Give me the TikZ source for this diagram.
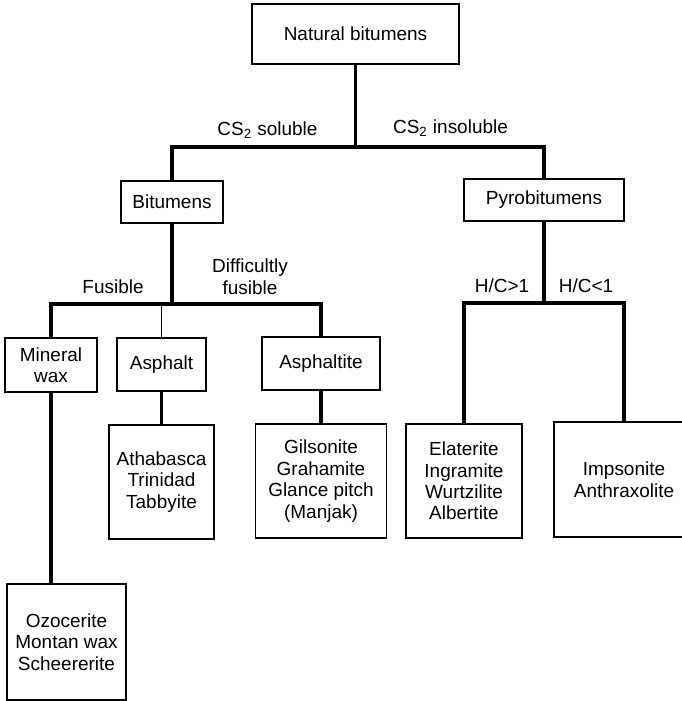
\documentclass[tikz,border=0pt]{standalone}
\usepackage{fontspec}
\setmainfont{Liberation Sans}

\begin{document}
\begin{tikzpicture}[x=0.02cm,y=-0.02cm,font=\fontsize{10.8}{12.2}\selectfont,
  box/.style={draw,line width=0.6pt,align=center,inner sep=0pt},
  link/.style={line width=2.2pt},
  lbl/.style={inner sep=0pt,align=center}]
\useasboundingbox (0,0) rectangle (682,701);
% boxes
\node[box,minimum width=4.14cm,minimum height=1.2cm] (nat) at (355.5,34) {Natural bitumens};
\node[box,minimum width=2.04cm,minimum height=0.84cm] (bit) at (172,202) {Bitumens};
\node[box,minimum width=3.2cm,minimum height=0.84cm] (pyro) at (544,200) {Pyrobitumens};
\node[box,minimum width=1.84cm,minimum height=1.08cm] (minwax) at (51,365) {Mineral\\wax};
\node[box,minimum width=1.78cm,minimum height=1.06cm] (asph) at (161.5,364.5) {Asphalt};
\node[box,minimum width=2.36cm,minimum height=1.06cm] (asphite) at (321,363.5) {Asphaltite};
\node[box,minimum width=2.1cm,minimum height=2.28cm] (atha) at (161.5,482) {Athabasca\\Trinidad\\Tabbyite};
\node[box,minimum width=2.62cm,minimum height=2.28cm] (gils) at (321,481) {Gilsonite\\Grahamite\\Glance pitch\\(Manjak)};
\node[box,minimum width=2.32cm,minimum height=2.28cm] (elat) at (464,481) {Elaterite\\Ingramite\\Wurtzilite\\Albertite};
\node[box,minimum width=2.8cm,minimum height=2.3cm] (imps) at (624,479.5) {Impsonite\\Anthraxolite};
\node[box,minimum width=2.38cm,minimum height=2.32cm] (ozo) at (66.5,642) {Ozocerite\\Montan wax\\Scheererite};
% branches
\coordinate (cs) at (355.5,147);
\coordinate (fus) at (172,304);
\coordinate (hc) at (544,303);
\draw[link] (nat) -- (cs);
\draw[link] (bit) |- (cs) -| (pyro);
\draw[link] (bit) -- (fus);
\draw[link] (minwax) |- (fus) -| (asphite);
\draw[line width=0.9pt] (asph) -- (asph |- fus);
\draw[link] (asph) -- (atha);
\draw[link] (asphite) -- (gils);
\draw[link] (minwax) -- (minwax |- ozo.north);
\draw[link] (pyro) -- (hc);
\draw[link] (elat) |- (hc) -| (imps);
% labels
\node[lbl] (sol) at (267.5,130) {CS\textsubscript{2} soluble};
\node[lbl] (insol) at (450.5,128) {CS\textsubscript{2} insoluble};
\node[lbl] (fusible) at (113,287) {Fusible};
\node[lbl] (diff) at (250,276.5) {Difficultly\\fusible};
\node[lbl] (hcgt) at (502,286) {H/C>1};
\node[lbl] (hclt) at (586,286) {H/C<1};
\end{tikzpicture}
\end{document}
